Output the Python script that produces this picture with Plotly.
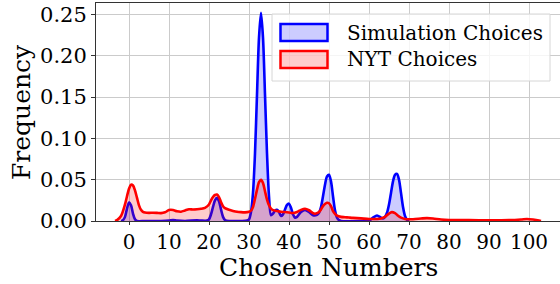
import plotly.graph_objects as go

# ---- data ----
sim_x = [-2.0, -1.5, -1.0, -0.5, 0.0, 0.5, 1.0, 1.5, 2.0, 4, 8, 10, 11, 12, 14, 17, 18, 19.5,
         20, 20.5, 21, 21.5, 22, 22.5, 23, 23.5, 24, 25, 28, 29.5,
         30, 30.5, 31, 31.5, 32, 32.5, 33, 33.5, 34, 34.5, 35, 35.5, 36, 36.5, 37, 37.5, 38,
         38.5, 39, 39.5, 40, 40.5, 41, 41.5, 42, 43, 44, 45, 46, 47, 47.5, 48, 48.5, 49, 49.5,
         50, 50.5, 51, 51.5, 52, 52.5, 53, 58, 60, 61, 62, 63, 63.5, 64, 64.5, 65, 65.5, 66,
         66.5, 67, 67.5, 68, 68.5, 69, 69.5, 70]
sim_y = [0.0, 0.001, 0.005, 0.015, 0.0225, 0.019, 0.009, 0.002, 0.0, 0.0, 0.0, 0.0005, 0.0012, 0.0005, 0.0, 0.0008, 0.0005, 0.0005,
         0.002, 0.008, 0.017, 0.025, 0.028, 0.024, 0.014, 0.005, 0.0012, 0.0, 0.0, 0.0005,
         0.002, 0.011, 0.034, 0.082, 0.153, 0.222, 0.252, 0.222, 0.153, 0.082, 0.030, 0.007, 0.009, 0.0125, 0.0135, 0.011, 0.006,
         0.008, 0.014, 0.0195, 0.021, 0.016, 0.008, 0.004, 0.005, 0.011, 0.0135, 0.011, 0.007, 0.0075, 0.010, 0.017, 0.030, 0.044, 0.054,
         0.056, 0.048, 0.030, 0.013, 0.004, 0.001, 0.0, 0.0, 0.0005, 0.004, 0.0067, 0.004, 0.003, 0.005, 0.010, 0.020, 0.034, 0.048,
         0.056, 0.057, 0.050, 0.034, 0.017, 0.006, 0.0015, 0.0]

nyt_x = [-3.5, -3, -2, -1, -0.5, 0, 0.5, 1, 1.5, 2, 2.5, 3, 3.5, 4, 5, 6, 7, 8, 9, 10, 11, 12, 13, 14,
         15, 16, 17, 18, 19, 20, 20.5, 21, 21.5, 22, 22.5, 23, 23.5, 24, 25, 26, 27, 28, 29, 30, 30.5,
         31, 31.5, 32, 32.5, 33, 33.5, 34, 34.5, 35, 35.5, 36, 37, 38, 39, 40, 41, 42, 43, 44, 45, 46,
         46.5, 47, 47.5, 48, 48.5, 49, 49.5, 50, 50.5, 51, 51.5, 52, 53, 54, 55, 56, 58, 60, 62, 63, 64,
         65, 65.7, 66.5, 67, 68, 69, 71, 73, 74.5, 76, 78, 80, 85, 90, 95, 98, 99.5, 101, 102.5, 103]
nyt_y = [0.0, 0.001, 0.006, 0.020, 0.030, 0.039, 0.044, 0.043, 0.037, 0.028, 0.019, 0.0135, 0.011, 0.0102, 0.0098, 0.0100, 0.0098, 0.0095, 0.0105, 0.0133, 0.0133, 0.0118, 0.0113, 0.0128,
         0.0142, 0.0140, 0.0142, 0.0148, 0.016, 0.020, 0.025, 0.029, 0.0315, 0.032, 0.029, 0.023, 0.018, 0.0155, 0.0135, 0.0122, 0.0112, 0.0107, 0.0105, 0.0112, 0.0125,
         0.017, 0.027, 0.038, 0.047, 0.050, 0.046, 0.036, 0.026, 0.019, 0.015, 0.0132, 0.0122, 0.0112, 0.0108, 0.0103, 0.0097, 0.011, 0.0135, 0.0148, 0.013, 0.0095,
         0.0088, 0.0095, 0.011, 0.014, 0.018, 0.0205, 0.022, 0.0215, 0.018, 0.012, 0.0087, 0.0065, 0.005, 0.0046, 0.0042, 0.0038, 0.0032, 0.0025, 0.0025, 0.003, 0.005,
         0.009, 0.0107, 0.0095, 0.0075, 0.004, 0.0025, 0.0022, 0.003, 0.0035, 0.003, 0.0018, 0.0012, 0.001, 0.0008, 0.001, 0.0018, 0.0025, 0.0018, 0.0006, 0.0]

x_ticks = [0, 10, 20, 30, 40, 50, 60, 70, 80, 90, 100]
y_ticks = [0.00, 0.05, 0.10, 0.15, 0.20, 0.25]
series_names = ["Simulation Choices", "NYT Choices"]

FONT = "DejaVu Serif"
W, H = 560, 284
ML, MR, MT, MB = 96, 0, 3, 63

fig = go.Figure()
fig.add_trace(go.Scatter(x=sim_x, y=sim_y, mode="lines", line=dict(color="#0000ff", width=2.6, shape="spline", smoothing=0.8),
                         fill="tozeroy", fillcolor="rgba(0,0,255,0.2)", name=series_names[0], showlegend=False, hoverinfo="skip"))
fig.add_trace(go.Scatter(x=nyt_x, y=nyt_y, mode="lines", line=dict(color="#ff0000", width=2.6, shape="spline", smoothing=0.8),
                         fill="tozeroy", fillcolor="rgba(255,0,0,0.2)", name=series_names[1], showlegend=False, hoverinfo="skip"))

# manual legend (matplotlib style) in paper coords
pw, ph = W - ML - MR, H - MT - MB
def px(xp):
    return (xp - ML) / pw
def py(yp):
    return (H - MB - yp) / ph

shapes = []
x0, x1, y0, y1 = px(272), px(550), py(14), py(81)
shapes.append(dict(type="rect", xref="paper", yref="paper", x0=x0, x1=x1, y0=y1, y1=y0,
                   fillcolor="rgba(255,255,255,0.8)", line=dict(color="#d6d6d6", width=1), layer="above"))
colors = [("#0000ff", "rgba(0,0,255,0.2)"), ("#ff0000", "rgba(255,0,0,0.2)")]
rows = [(24, 41), (51, 68)]
annotations = []
for (lc, fc), (ya, yb), name in zip(colors, rows, series_names):
    shapes.append(dict(type="rect", xref="paper", yref="paper", x0=px(280.5), x1=px(327.5), y0=py(yb), y1=py(ya),
                       fillcolor=fc, line=dict(color=lc, width=2.5), layer="above"))
    annotations.append(dict(xref="paper", yref="paper", x=px(345), y=py((ya + yb) / 2), text=name, showarrow=False,
                            xanchor="left", yanchor="middle", font=dict(family=FONT, size=20, color="black")))

# axis titles as annotations for precise placement
annotations.append(dict(xref="paper", yref="paper", x=0.5, y=py(267), text="Chosen Numbers", showarrow=False,
                        xanchor="center", yanchor="middle", font=dict(family=FONT, size=25, color="black")))
annotations.append(dict(xref="paper", yref="paper", x=px(21), y=0.5, text="Frequency", showarrow=False, textangle=-90,
                        xanchor="center", yanchor="middle", font=dict(family=FONT, size=25, color="black")))

fig.update_layout(
    width=W, height=H, margin=dict(l=ML, r=MR, t=MT, b=MB, autoexpand=False),
    paper_bgcolor="white", plot_bgcolor="white",
    font=dict(family=FONT, color="black"),
    shapes=shapes, annotations=annotations,
    xaxis=dict(range=[-8.25, 107.75], tickvals=x_ticks, ticktext=[str(v) for v in x_ticks], automargin=False,
               showgrid=True, gridcolor="#cbcbcb", gridwidth=1, zeroline=False,
               showline=True, linecolor="#333333", linewidth=1, mirror=True,
               ticks="outside", ticklen=3, tickcolor="#333333", tickfont=dict(family=FONT, size=20, color="black")),
    yaxis=dict(range=[0, 0.264], tickvals=y_ticks, tickformat=".2f", automargin=False,
               showgrid=True, gridcolor="#cbcbcb", gridwidth=1, zeroline=False,
               showline=True, linecolor="#333333", linewidth=1, mirror=False,
               ticks="outside", ticklen=4, tickcolor="#333333", tickfont=dict(family=FONT, size=21, color="black")),
)

fig.write_html("out.html", config={"displayModeBar": False, "staticPlot": True},
               post_script="document.body.style.margin='0';document.body.style.overflow='hidden';")
